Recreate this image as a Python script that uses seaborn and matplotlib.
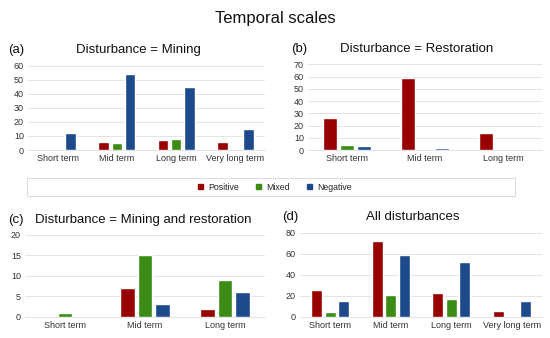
import matplotlib
matplotlib.use("Agg")
import matplotlib.pyplot as plt
import seaborn as sns
import pandas as pd
from matplotlib.patches import Rectangle, Patch

sns.set_theme(style="white")
plt.rcParams['font.family'] = ['Liberation Sans', 'DejaVu Sans']

effects = ["Positive", "Mixed", "Negative"]
colors = ["#990000", "#3a8c14", "#1c4a8a"]

terms4 = ["Short term", "Mid term", "Long term", "Very long term"]
terms3 = ["Short term", "Mid term", "Long term"]

mining_pos = [0, 6, 7, 6]
mining_mix = [0, 5, 8, 1]
mining_neg = [12, 54, 45, 15]

rest_pos = [26, 59, 14]
rest_mix = [4, 1, 0]
rest_neg = [3, 2, 1]

mr_pos = [0, 7, 2]
mr_mix = [1, 15, 9]
mr_neg = [0, 3, 6]

all_pos = [26, 72, 23, 6]
all_mix = [5, 21, 17, 1]
all_neg = [15, 59, 52, 15]


def make_df(terms, pos, mix, neg):
    rows = []
    for eff, vals in zip(effects, [pos, mix, neg]):
        for t, v in zip(terms, vals):
            rows.append({"term": t, "effect": eff, "count": v})
    return pd.DataFrame(rows)


panels = [
    ("(a)", "Disturbance = Mining", make_df(terms4, mining_pos, mining_mix, mining_neg),
     terms4, 60, 10, [28/550, 1-150/338, 237/550, 84.3/338], "center", 8/550),
    ("(b)", "Disturbance = Restoration", make_df(terms3, rest_pos, rest_mix, rest_neg),
     terms3, 70, 10, [308/550, 1-150/338, 234/550, 85.7/338], "center", 291/550),
    ("(c)", "Disturbance = Mining and restoration", make_df(terms3, mr_pos, mr_mix, mr_neg),
     terms3, 20, 5, [25/550, 1-316.7/338, 240/550, 81.7/338], "left", 8/550),
    ("(d)", "All disturbances", make_df(terms4, all_pos, all_mix, all_neg),
     terms4, 80, 20, [300/550, 1-317/338, 242/550, 84.3/338], "center", 282/550),
]

fig = plt.figure(figsize=(5.5, 3.38), dpi=100)

for label, title, df, terms, ymax, step, rect, talign, lx in panels:
    ax = fig.add_axes(rect)
    sns.barplot(data=df, x="term", y="count", hue="effect", order=terms,
                hue_order=effects, palette=colors, width=0.66, gap=0.18,
                legend=False, ax=ax, saturation=1)
    ax.set_ylim(0, ymax)
    ax.set_yticks(range(0, ymax + 1, step))
    ax.set_xlabel("")
    ax.set_ylabel("")
    ax.tick_params(axis="both", labelsize=6.5, length=0, pad=3, colors="#333333")
    ax.yaxis.grid(True, color="#e4e4e4", linewidth=0.7)
    ax.set_axisbelow(True)
    for s in ["top", "right", "left"]:
        ax.spines[s].set_visible(False)
    ax.spines["bottom"].set_color("#e4e4e4")
    ax.spines["bottom"].set_linewidth(0.7)
    top = rect[1] + rect[3]
    fig.text(lx, top + 0.045, label, fontsize=9.5, ha="left", va="center", color="#111111")
    if talign == "center":
        fig.text(rect[0] + rect[2] / 2 - 0.015, top + 0.045, title, fontsize=9.5,
                 ha="center", va="center", color="#111111")
    else:
        fig.text(rect[0] + 0.018, top + 0.045, title, fontsize=9.5,
                 ha="left", va="center", color="#111111")

fig.text(0.5, 1 - 18/338, "Temporal scales", fontsize=12, ha="center", va="center",
         color="#111111")

# legend frame
fig.add_artist(Rectangle((27/550, 1 - 196/338), (515-27)/550, 18/338,
                         transform=fig.transFigure, facecolor="white",
                         edgecolor="#dddddd", linewidth=0.8))
handles = [Patch(facecolor=c, edgecolor=c, label=e) for c, e in zip(colors, effects)]
fig.legend(handles=handles, loc="center", bbox_to_anchor=(0.5, 1 - 187/338),
           ncol=3, frameon=False, fontsize=6.3, handlelength=0.6, handleheight=0.6,
           handletextpad=0.6, columnspacing=1.9)

fig.savefig("out.png", dpi=100)
